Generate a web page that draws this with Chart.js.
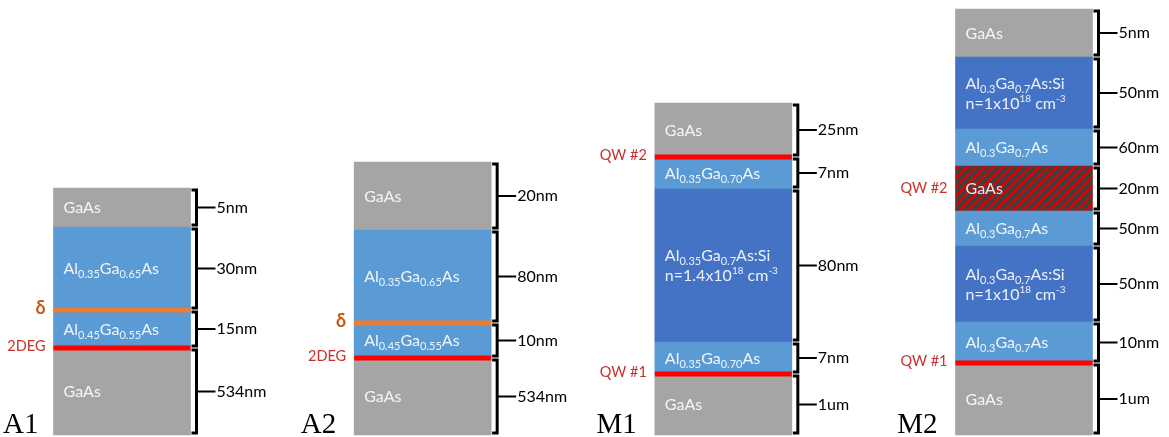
<!DOCTYPE html>
<html>
<head>
<meta charset="utf-8">
<script src="https://cdn.jsdelivr.net/npm/chart.js@4.4.0/dist/chart.umd.min.js"></script>
<style>
	body { margin: 0; background: #fff; }
</style>
</head>
<body>
<canvas id="myChart" width="1169" height="437"></canvas>
<script>
// 샘플 이름 (x축)
const samples = ['A1', 'A2', 'M1', 'M2'];

// 각 층의 그림상 높이 (아래 -> 위 순서, 실제 두께 비례 아님)
const a1Heights = [87, 38, 83, 39];
const a2Heights = [77, 35, 93, 68];
const m1Heights = [61, 32, 153, 32, 54];
const m2Heights = [72, 41, 76, 35, 45, 37, 72, 48];

// 층 종류 g: GaAs, l: AlGaAs, d: AlGaAs:Si, h: GaAs 양자우물(빗금)
const a1Types = ['g', 'l', 'l', 'g'];
const a2Types = ['g', 'l', 'l', 'g'];
const m1Types = ['g', 'l', 'd', 'l', 'g'];
const m2Types = ['g', 'l', 'd', 'l', 'h', 'l', 'd', 'g'];

// 층 이름 (_{} 아래첨자, ^{} 위첨자)
const a1Layers = ['GaAs', 'Al_{0.45}Ga_{0.55}As', 'Al_{0.35}Ga_{0.65}As', 'GaAs'];
const a2Layers = ['GaAs', 'Al_{0.45}Ga_{0.55}As', 'Al_{0.35}Ga_{0.65}As', 'GaAs'];
const m1Layers = ['GaAs', 'Al_{0.35}Ga_{0.70}As', 'Al_{0.35}Ga_{0.7}As:Si\nn=1.4x10^{18} cm^{-3}', 'Al_{0.35}Ga_{0.70}As', 'GaAs'];
const m2Layers = ['GaAs', 'Al_{0.3}Ga_{0.7}As', 'Al_{0.3}Ga_{0.7}As:Si\nn=1x10^{18} cm^{-3}', 'Al_{0.3}Ga_{0.7}As', 'GaAs', 'Al_{0.3}Ga_{0.7}As', 'Al_{0.3}Ga_{0.7}As:Si\nn=1x10^{18} cm^{-3}', 'GaAs'];

// 두께 라벨
const a1Thick = ['534nm', '15nm', '30nm', '5nm'];
const a2Thick = ['534nm', '10nm', '80nm', '20nm'];
const m1Thick = ['1um', '7nm', '80nm', '7nm', '25nm'];
const m2Thick = ['1um', '10nm', '50nm', '50nm', '20nm', '60nm', '50nm', '5nm'];

// 표시선 (at: 층 경계 번호, layer: 층 번호)
const a1Marks = [{ at: 1, kind: 'red', text: '2DEG' }, { at: 2, kind: 'orange', text: 'δ' }];
const a2Marks = [{ at: 1, kind: 'red', text: '2DEG' }, { at: 2, kind: 'orange', text: 'δ' }];
const m1Marks = [{ at: 1, kind: 'red', text: 'QW #1' }, { at: 4, kind: 'red', text: 'QW #2' }];
const m2Marks = [{ at: 1, kind: 'red', text: 'QW #1' }, { layer: 4, kind: 'none', text: 'QW #2' }];

const heightsList = [a1Heights, a2Heights, m1Heights, m2Heights];
const typesList = [a1Types, a2Types, m1Types, m2Types];
const layersList = [a1Layers, a2Layers, m1Layers, m2Layers];
const thickList = [a1Thick, a2Thick, m1Thick, m2Thick];
const marksList = [a1Marks, a2Marks, m1Marks, m2Marks];

const colorMap = { g: '#A5A5A5', l: '#5B9BD5', d: '#4472C4' };
const lineColor = { red: '#FF0000', orange: '#ED7D31' };
const labelColor = { red: '#C9302C', orange: '#C55A11', none: '#C9302C' };

const canvas = document.getElementById('myChart');
const ctx = canvas.getContext('2d');

// 빗금 패턴 (양자우물)
function makeHatch() {
	const n = 9;
	const c = document.createElement('canvas');
	c.width = n; c.height = n;
	const g = c.getContext('2d');
	g.fillStyle = '#3F3F3F';
	g.fillRect(0, 0, n, n);
	g.strokeStyle = '#E00000';
	g.lineWidth = 2.6;
	g.beginPath();
	g.moveTo(-2, n + 2); g.lineTo(n + 2, -2);
	g.moveTo(-2, 2); g.lineTo(2, -2);
	g.moveTo(n - 2, n + 2); g.lineTo(n + 2, n - 2);
	g.stroke();
	return ctx.createPattern(c, 'repeat');
}
const hatch = makeHatch();

// 아래첨자/위첨자 글자 그리기
function drawRich(c, text, x, midY) {
	const lines = text.split('\n');
	const lh = 20;
	c.textAlign = 'left';
	c.textBaseline = 'alphabetic';
	lines.forEach((line, j) => {
		const base = midY + (j - (lines.length - 1) / 2) * lh + 5.5;
		let cx = x;
		const parts = line.split(/(_\{[^}]*\}|\^\{[^}]*\})/).filter(p => p);
		parts.forEach(p => {
			let font = '16px Lato', dy = 0, t = p;
			if (p.startsWith('_{')) { font = '11px Lato'; dy = 4; t = p.slice(2, -1); }
			else if (p.startsWith('^{')) { font = '10px Lato'; dy = -7; t = p.slice(2, -1); }
			c.font = font;
			c.fillText(t, cx, base + dy);
			cx += c.measureText(t).width;
		});
	});
}

const layerPlugin = {
	id: 'layerPlugin',
	afterDatasetsDraw(chart) {
		const c = chart.ctx;
		c.save();
		samples.forEach((name, i) => {
			const heights = heightsList[i];
			const bars = heights.map((h, k) => chart.getDatasetMeta(k).data[i]);
			const left = bars[0].x - bars[0].width / 2;
			const right = bars[0].x + bars[0].width / 2;
			const bx = right + 6;

			bars.forEach((bar, k) => {
				const top = Math.min(bar.y, bar.base);
				const bottom = Math.max(bar.y, bar.base);
				const mid = (top + bottom) / 2;

				// 층 이름
				c.fillStyle = 'rgba(255,255,255,0.9)';
				drawRich(c, layersList[i][k], left + 10, mid);

				// 오른쪽 괄호
				c.strokeStyle = '#000';
				c.lineJoin = 'miter';
				c.lineWidth = 3;
				c.beginPath();
				c.moveTo(right + 1, top + 2);
				c.lineTo(bx, top + 2);
				c.lineTo(bx, bottom - 2);
				c.lineTo(right + 1, bottom - 2);
				c.stroke();
				c.lineWidth = 2;
				c.beginPath();
				c.moveTo(bx, mid);
				c.lineTo(bx + 19, mid);
				c.stroke();

				// 두께 라벨
				c.fillStyle = '#000';
				c.font = '16px Lato';
				c.textAlign = 'left';
				c.textBaseline = 'middle';
				c.fillText(thickList[i][k], bx + 20, mid);
			});

			// 2DEG, δ, QW 표시
			marksList[i].forEach(m => {
				let y;
				if (m.at !== undefined) {
					y = bars[m.at].base;
					c.strokeStyle = lineColor[m.kind];
					c.lineWidth = 5;
					c.beginPath();
					c.moveTo(left, y);
					c.lineTo(right, y);
					c.stroke();
					y -= 2;
				} else {
					const b = bars[m.layer];
					y = (b.y + b.base) / 2;
				}
				c.fillStyle = labelColor[m.kind];
				c.font = m.kind === 'orange' ? 'bold 18px Lato' : '14.5px Lato';
				c.textAlign = 'right';
				c.textBaseline = 'middle';
				c.fillText(m.text, left - 8, y);
			});

			// 샘플 이름
			c.fillStyle = '#000';
			c.font = '29px "Liberation Serif"';
			c.textAlign = 'left';
			c.textBaseline = 'alphabetic';
			const w = c.measureText(name).width;
			const nx = Math.max(3, left - 18 - w);
			c.fillText(name, nx, bars[0].base - 2);
		});
		c.restore();
	}
};

// 데이터셋 만들기 (층 번호별)
const maxLayer = Math.max(...heightsList.map(h => h.length));
const datasets = [];
for (let k = 0; k < maxLayer; k++) {
	datasets.push({
		label: 'layer ' + k,
		data: heightsList.map(h => (h[k] === undefined ? null : h[k])),
		backgroundColor: typesList.map(t => (t[k] === 'h' ? hatch : colorMap[t[k]] || '#fff')),
		borderWidth: 0,
		barThickness: 137,
		clip: false
	});
}

new Chart(canvas, {
	type: 'bar',
	data: {
		labels: samples,
		datasets: datasets
	},
	options: {
		responsive: false,
		animation: false,
		layout: { padding: { left: 122, right: 145, top: 0, bottom: 2 } },
		plugins: {
			legend: { display: false },
			tooltip: { enabled: false }
		},
		scales: {
			x: { display: false, stacked: true, offset: false },
			y: { display: false, stacked: true, min: 0, max: 435 }
		}
	},
	plugins: [layerPlugin]
});
</script>
</body>
</html>
